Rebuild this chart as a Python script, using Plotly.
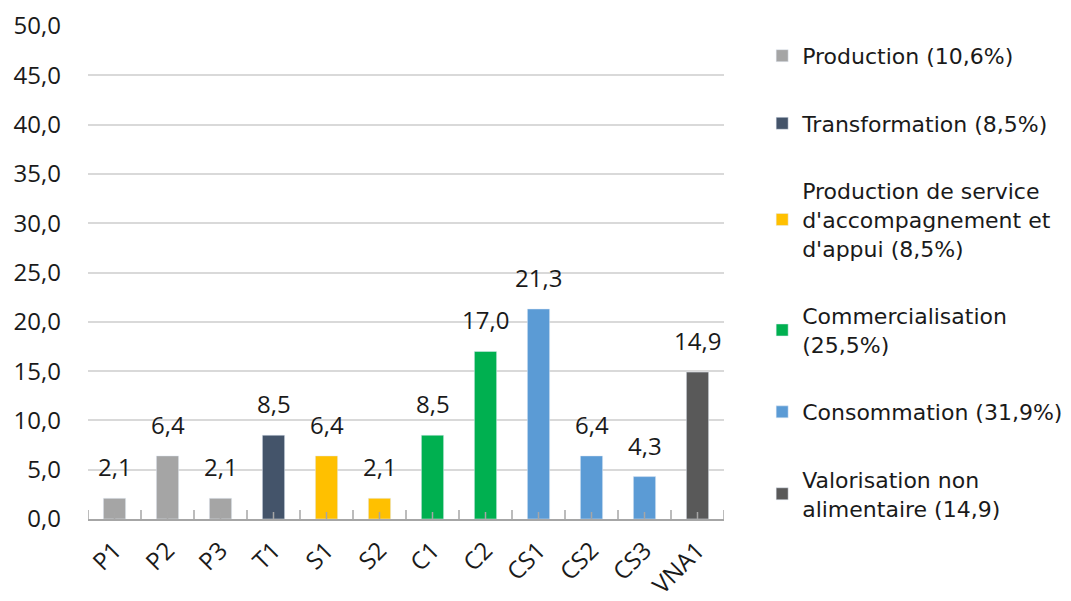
import plotly.graph_objects as go

categories = ["P1", "P2", "P3", "T1", "S1", "S2", "C1", "C2", "CS1", "CS2", "CS3", "VNA1"]
values = [2.1, 6.4, 2.1, 8.5, 6.4, 2.1, 8.5, 17.0, 21.3, 6.4, 4.3, 14.9]
groups = ["Production (10,6%)"] * 3 + ["Transformation (8,5%)"] + \
         ["Production de service<br>d'accompagnement et<br>d'appui (8,5%)"] * 2 + \
         ["Commercialisation<br>(25,5%)"] * 2 + ["Consommation (31,9%)"] * 3 + \
         ["Valorisation non<br>alimentaire (14,9)"]
group_order = ["Production (10,6%)", "Transformation (8,5%)",
               "Production de service<br>d'accompagnement et<br>d'appui (8,5%)",
               "Commercialisation<br>(25,5%)", "Consommation (31,9%)",
               "Valorisation non<br>alimentaire (14,9)"]
group_colors = ["#A5A5A5", "#44546A", "#FFC000", "#00B050", "#5B9BD5", "#595959"]

FONT = "Open Sans"

fig = go.Figure()
for gi, (g, col) in enumerate(zip(group_order, group_colors)):
    xs = [c for c, gg in zip(categories, groups) if gg == g]
    ys = [v for v, gg in zip(values, groups) if gg == g]
    fig.add_trace(go.Bar(x=xs, y=ys, name=g, marker_color=col, width=0.42,
                         legendgroup=str(gi), showlegend=True))

# data labels
for c, v in zip(categories, values):
    fig.add_annotation(x=c, y=v, text=f"{v:.1f}".replace(".", ","), showarrow=False,
                       yanchor="bottom", yshift=13,
                       font=dict(family=FONT, size=24, color="#1a1a1a"))

# axis tick marks (crossing the axis line)
n = len(categories)
for i in range(n + 1):
    fig.add_shape(type="line", xref="x", yref="y", x0=i - 0.5, x1=i - 0.5,
                  ysizemode="pixel", yanchor=0, y0=-9, y1=9,
                  line=dict(color="#A6A6A6", width=1.5))
for i in range(n):
    fig.add_shape(type="line", xref="x", yref="y", x0=i, x1=i,
                  ysizemode="pixel", yanchor=0, y0=-7, y1=7,
                  line=dict(color="#A6A6A6", width=1.5))

fig.update_layout(
    width=1063, height=593,
    margin=dict(l=80, r=347, t=18, b=82, autoexpand=False),
    paper_bgcolor="white", plot_bgcolor="white",
    separators=",.",
    barmode="overlay",
    font=dict(family=FONT, color="#1a1a1a"),
    legend=dict(x=1.06, y=0.982, xanchor="left", yanchor="top",
                traceorder="grouped", tracegroupgap=36, maxheight=600,
                font=dict(family="DejaVu Sans", size=22, color="#1a1a1a"),
                bgcolor="rgba(0,0,0,0)"),
    xaxis=dict(type="category", categoryorder="array", categoryarray=categories,
               range=[-0.5, n - 0.5],
               showline=True, linecolor="#A6A6A6", linewidth=1.5,
               ticks="", tickangle=-45, ticklabelstandoff=6,
               tickfont=dict(family=FONT, size=24, color="#1a1a1a"),
               showgrid=False, zeroline=False),
    yaxis=dict(range=[0, 50], dtick=5, tickformat=".1f",
               showgrid=True, gridcolor="#D9D9D9", gridwidth=1.5,
               zeroline=False, showline=False, ticks="",
               ticklabelstandoff=26,
               tickfont=dict(family=FONT, size=24, color="#1a1a1a")),
)

fig.write_html("out.html")
